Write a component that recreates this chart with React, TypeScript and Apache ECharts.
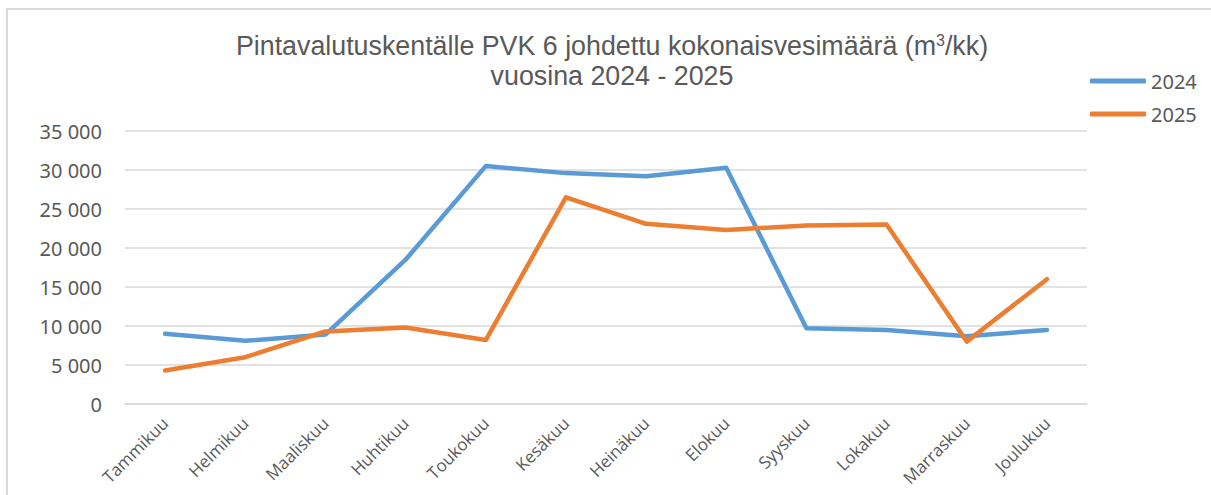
import React, { useEffect, useRef } from "react";
import * as echarts from "echarts";

const months = ["Tammikuu", "Helmikuu", "Maaliskuu", "Huhtikuu", "Toukokuu", "Kesäkuu", "Heinäkuu", "Elokuu", "Syyskuu", "Lokakuu", "Marraskuu", "Joulukuu"];
const values2024 = [9000, 8100, 8900, 18500, 30500, 29600, 29200, 30300, 9700, 9500, 8700, 9500];
const values2025 = [4300, 6000, 9300, 9800, 8200, 26500, 23100, 22300, 22900, 23000, 8000, 16000];
const titleLine1 = "Pintavalutuskentälle PVK 6 johdettu kokonaisvesimäärä (m{sup|3}/kk)";
const titleLine2 = "vuosina 2024 - 2025";

const fmt = (v: number) => {
  if (v === 0) return "0";
  const s = String(v);
  return s.slice(0, s.length - 3) + " " + s.slice(s.length - 3);
};

export default function App() {
  const ref = useRef<HTMLDivElement>(null);
  useEffect(() => {
    document.body.style.margin = "0";
    const chart = echarts.init(ref.current!, null, { renderer: "svg" });
    chart.setOption({
      animation: false,
      backgroundColor: "#ffffff",
      graphic: [
        {
          type: "text",
          x: 612,
          y: 46,
          style: {
            text: titleLine1,
            align: "center",
            verticalAlign: "middle",
            fontFamily: "Liberation Sans",
            fontSize: 26.8,
            fill: "#595959",
            rich: {
              sup: { fontSize: 16, verticalAlign: "top", padding: [0, 0, 12, 0], fill: "#595959", fontFamily: "Liberation Sans" },
            },
          },
        },
        {
          type: "text",
          x: 612,
          y: 76,
          style: {
            text: titleLine2,
            align: "center",
            verticalAlign: "middle",
            fontFamily: "Liberation Sans",
            fontSize: 26.8,
            fill: "#595959",
          },
        },
      ],
      legend: {
        orient: "vertical",
        left: 1085,
        top: 66,
        itemWidth: 56,
        itemHeight: 5,
        itemGap: 13,
        icon: "roundRect",
        textStyle: { fontFamily: "Noto Sans", fontSize: 20, color: "#595959", padding: [0, 0, 0, 0] },
        data: ["2024", "2025"],
      },
      grid: { left: 125, right: 124, top: 131, bottom: 91 },
      xAxis: {
        type: "category",
        data: months,
        boundaryGap: true,
        axisLine: { lineStyle: { color: "#d9d9d9", width: 1.5 } },
        axisTick: { show: false },
        axisLabel: {
          rotate: 45,
          margin: 16,
          interval: 0,
          fontFamily: "Open Sans",
          fontSize: 17,
          color: "#595959",
        },
      },
      yAxis: {
        type: "value",
        min: 0,
        max: 35000,
        interval: 5000,
        axisLine: { show: false },
        axisTick: { show: false },
        splitLine: { lineStyle: { color: "#d9d9d9", width: 1.5 } },
        axisLabel: {
          margin: 23,
          fontFamily: "Noto Sans",
          fontSize: 20,
          color: "#595959",
          formatter: (v: number) => fmt(v),
        },
      },
      series: [
        {
          name: "2024",
          type: "line",
          data: values2024,
          symbol: "none",
          color: "#5B9BD5",
          lineStyle: { width: 4.5, color: "#5B9BD5", cap: "round", join: "round" },
        },
        {
          name: "2025",
          type: "line",
          data: values2025,
          symbol: "none",
          color: "#ED7D31",
          lineStyle: { width: 4.5, color: "#ED7D31", cap: "round", join: "round" },
        },
      ],
    });
    return () => chart.dispose();
  }, []);
  return (
    <div style={{ position: "relative", width: 1211, height: 495, background: "#fff" }}>
      <div ref={ref} style={{ position: "absolute", left: 0, top: 0, width: 1211, height: 495 }} />
      <div
        style={{
          position: "absolute",
          left: 6,
          top: 8,
          width: 1211 - 6,
          height: 495 - 8,
          borderTop: "2px solid #d9d9d9",
          borderLeft: "2px solid #d9d9d9",
          boxSizing: "border-box",
          pointerEvents: "none",
        }}
      />
    </div>
  );
}
